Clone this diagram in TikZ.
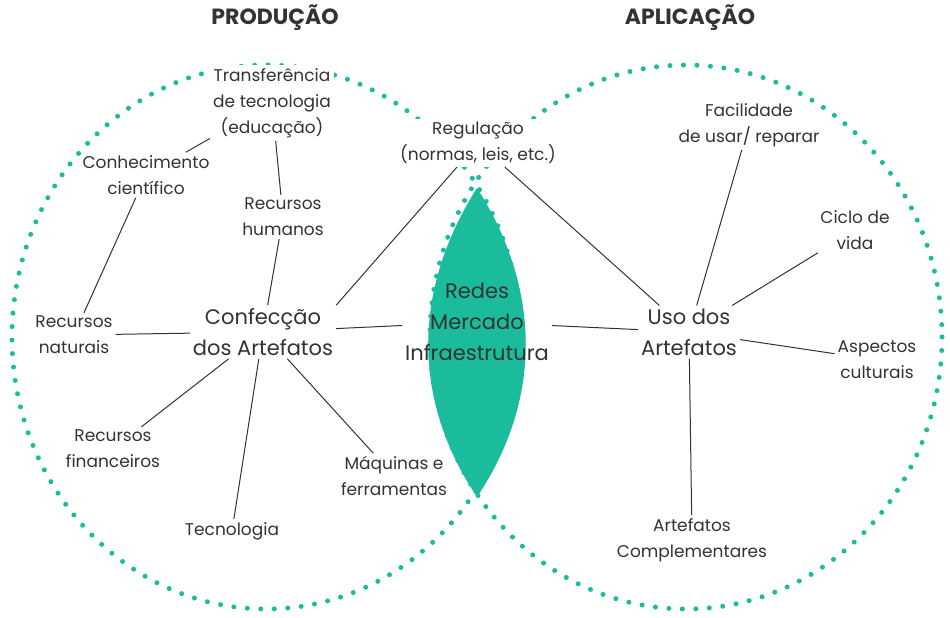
\documentclass[tikz,border=0pt]{standalone}
\usepackage{fontspec}
\setmainfont{Poppins}
\definecolor{teal1}{HTML}{1ABC9C}
\definecolor{txt}{HTML}{333333}
\begin{document}
\begin{tikzpicture}[x=1pt,y=-1pt,
  lab/.style={align=center,font=\fontsize{17}{26}\selectfont\color{txt},inner sep=3pt},
  big/.style={align=center,font=\fontsize{21}{31}\selectfont\color{txt},inner sep=3pt},
  head/.style={font=\fontsize{22}{26}\selectfont\bfseries\color{txt}},
  con/.style={draw=txt,line width=1pt},
  dots/.style={draw=teal1,line width=5pt,line cap=round,dash pattern=on 0pt off 13.5pt}]
\useasboundingbox (0,0) rectangle (950,618);
\fill[white] (0,0) rectangle (950,618);
\draw[dots] (266,337) ellipse [x radius=254, y radius=272];
\draw[dots] (686,337) ellipse [x radius=256, y radius=272];
\fill[teal1] (477,188) .. controls (412,290) and (412,400) .. (477,497) .. controls (542,400) and (542,290) .. (477,188);
\node[head] (prod) at (275,18) {PRODUÇÃO};
\node[head] (apl) at (690,18) {APLICAÇÃO};
\node[lab,fill=white] (transf) at (272,103) {Transferência\\de tecnologia\\(educação)};
\node[lab] (conh) at (146,175) {Conhecimento\\científico};
\node[lab] (rh) at (283,217) {Recursos\\humanos};
\node[lab,fill=white] (reg) at (478,143) {Regulação\\(normas, leis, etc.)};
\node[lab] (fac) at (749,125) {Facilidade\\de usar/ reparar};
\node[lab] (ciclo) at (855,230) {Ciclo de\\vida};
\node[lab] (rn) at (74,335) {Recursos\\naturais};
\node[big] (conf) at (263,332) {Confecção\\dos Artefatos};
\node[big] (redes) at (477,322) {Redes\\Mercado\\Infraestrutura};
\node[big] (uso) at (689,332) {Uso dos\\Artefatos};
\node[lab] (asp) at (877,360) {Aspectos\\culturais};
\node[lab] (rf) at (113,449) {Recursos\\financeiros};
\node[lab] (tec) at (232,531) {Tecnologia};
\node[lab] (maq) at (394,476) {Máquinas e\\ferramentas};
\node[lab] (artc) at (692,540) {Artefatos\\Complementares};
\draw[con] (transf) -- (conh);
\draw[con] (transf) -- (rh);
\draw[con] (conh) -- (rn);
\draw[con] (rh) -- (conf);
\draw[con] (rn) -- (conf);
\draw[con] (conf.north east) -- (reg);
\draw[con] (conf) -- (redes);
\draw[con] (conf) -- (rf);
\draw[con] (conf) -- (tec);
\draw[con] (conf) -- (maq);
\draw[con] (reg) -- (uso);
\draw[con] (redes) -- (uso);
\draw[con] (fac) -- (uso);
\draw[con] (ciclo) -- (uso);
\draw[con] (asp) -- (uso);
\draw[con] (uso) -- (artc);
\end{tikzpicture}
\end{document}
